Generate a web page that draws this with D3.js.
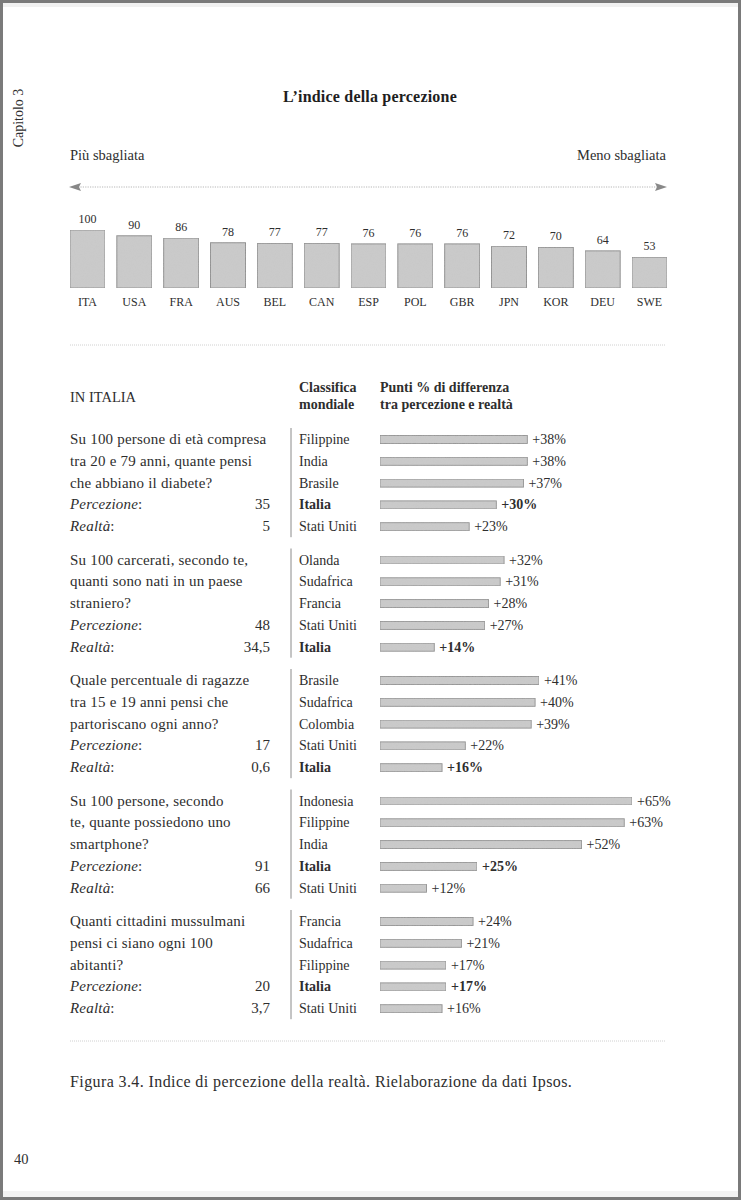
<!DOCTYPE html>
<html lang="it">
<head>
<meta charset="utf-8">
<title>L'indice della percezione</title>
<script src="https://cdn.jsdelivr.net/npm/d3@7"></script>
<style>
  html, body { margin: 0; padding: 0; background: #fff; }
  svg text { font-family: "Liberation Serif", "DejaVu Serif", serif; fill: #2e2e2e; }
</style>
</head>
<body>
<div id="page"></div>
<script>

// top index chart
const topCodes = ["ITA","USA","FRA","AUS","BEL","CAN","ESP","POL","GBR","JPN","KOR","DEU","SWE"];
const topValues = [100, 90, 86, 78, 77, 77, 76, 76, 76, 72, 70, 64, 53];

// questions (Italy)
const questionLines = [
  ["Su 100 persone di età compresa", "tra 20 e 79 anni, quante pensi", "che abbiano il diabete?"],
  ["Su 100 carcerati, secondo te,", "quanti sono nati in un paese", "straniero?"],
  ["Quale percentuale di ragazze", "tra 15 e 19 anni pensi che", "partoriscano ogni anno?"],
  ["Su 100 persone, secondo", "te, quante possiedono uno", "smartphone?"],
  ["Quanti cittadini mussulmani", "pensi ci siano ogni 100", "abitanti?"]
];
const perception = ["35", "48", "17", "91", "20"];
const reality = ["5", "34,5", "0,6", "66", "3,7"];

// world ranking per question
const rankCountries = [
  ["Filippine", "India", "Brasile", "Italia", "Stati Uniti"],
  ["Olanda", "Sudafrica", "Francia", "Stati Uniti", "Italia"],
  ["Brasile", "Sudafrica", "Colombia", "Stati Uniti", "Italia"],
  ["Indonesia", "Filippine", "India", "Italia", "Stati Uniti"],
  ["Francia", "Sudafrica", "Filippine", "Italia", "Stati Uniti"]
];
const rankDiffs = [
  [38, 38, 37, 30, 23],
  [32, 31, 28, 27, 14],
  [41, 40, 39, 22, 16],
  [65, 63, 52, 25, 12],
  [24, 21, 17, 17, 16]
];

const W = 741, H = 1200;
const svg = d3.select("#page").append("svg")
  .attr("width", W)
  .attr("height", H);

// page frame
svg.append("rect").attr("x", 0).attr("y", 0).attr("width", W).attr("height", H).attr("fill", "#7a7a7a");
svg.append("rect").attr("x", 3).attr("y", 3).attr("width", W - 6).attr("height", H - 6).attr("fill", "#fff");
svg.append("rect").attr("x", 3).attr("y", 3).attr("width", W - 6).attr("height", 4).attr("fill", "#f1f1f1");
svg.append("rect").attr("x", 3).attr("y", H - 9).attr("width", W - 6).attr("height", 6).attr("fill", "#f3f3f3");

// grain for the bars
const defs = svg.append("defs");
const grain = defs.append("filter").attr("id", "grain").attr("x", 0).attr("y", 0).attr("width", 1).attr("height", 1);
grain.append("feTurbulence").attr("type", "fractalNoise").attr("baseFrequency", 0.9).attr("numOctaves", 2).attr("seed", 3).attr("result", "noise");
grain.append("feColorMatrix").attr("in", "noise").attr("type", "matrix")
  .attr("values", "0 0 0 0 0.55  0 0 0 0 0.55  0 0 0 0 0.55  0 0 0 0.35 0").attr("result", "dots");
grain.append("feComposite").attr("in", "dots").attr("in2", "SourceGraphic").attr("operator", "in").attr("result", "d2");
grain.append("feMerge").selectAll("feMergeNode").data(["SourceGraphic", "d2"]).join("feMergeNode").attr("in", d => d);

const barFill = "#cbcbcb", barStroke = "#8a8a8a";

// side label + page number
svg.append("text")
  .attr("transform", "translate(23,118) rotate(-90)")
  .attr("text-anchor", "middle")
  .style("font-size", "14px")
  .text("Capitolo 3");

svg.append("text").attr("x", 14).attr("y", 1164).style("font-size", "14.5px").text("40");

// title
svg.append("text")
  .attr("x", 370).attr("y", 102)
  .attr("text-anchor", "middle")
  .style("font-size", "16px").style("font-weight", "bold")
  .style("letter-spacing", "0.2px")
  .style("fill", "#1e1e1e")
  .text("L\u2019indice della percezione");

svg.append("text").attr("x", 70).attr("y", 160).style("font-size", "14.5px").text("Più sbagliata");
svg.append("text").attr("x", 666).attr("y", 160).attr("text-anchor", "end").style("font-size", "14.5px").text("Meno sbagliata");

// arrow
const arrowY = 187;
svg.append("line")
  .attr("x1", 78).attr("x2", 658).attr("y1", arrowY).attr("y2", arrowY)
  .attr("stroke", "#a5a5a5").attr("stroke-width", 0.8).attr("stroke-dasharray", "1.2,1.2");
svg.append("path").attr("d", `M69,${arrowY} L81,${arrowY - 4} L79,${arrowY} L81,${arrowY + 4} Z`).attr("fill", "#888");
svg.append("path").attr("d", `M667,${arrowY} L655,${arrowY - 4} L657,${arrowY} L655,${arrowY + 4} Z`).attr("fill", "#888");

// top bars
const xTop = d3.scaleBand().domain(topCodes).range([70, 667]).paddingInner(0.2527).paddingOuter(0);
const yTop = d3.scaleLinear().domain([0, 100]).range([288, 230]);

const gTop = svg.append("g");
gTop.selectAll("rect").data(topCodes).join("rect")
  .attr("x", d => xTop(d))
  .attr("y", (d, i) => yTop(topValues[i]))
  .attr("width", xTop.bandwidth())
  .attr("height", (d, i) => yTop(0) - yTop(topValues[i]))
  .attr("fill", barFill).attr("stroke", barStroke).attr("stroke-width", 1)
  .attr("filter", "url(#grain)");

gTop.selectAll("text.val").data(topCodes).join("text")
  .attr("class", "val")
  .attr("x", d => xTop(d) + xTop.bandwidth() / 2)
  .attr("y", (d, i) => yTop(topValues[i]) - 7)
  .attr("text-anchor", "middle")
  .style("font-size", "12px")
  .text((d, i) => topValues[i]);

gTop.selectAll("text.code").data(topCodes).join("text")
  .attr("class", "code")
  .attr("x", d => xTop(d) + xTop.bandwidth() / 2)
  .attr("y", 306)
  .attr("text-anchor", "middle")
  .style("font-size", "12px")
  .text(d => d);

// dotted separators
[345, 1041].forEach(y => {
  svg.append("line").attr("x1", 70).attr("x2", 666).attr("y1", y).attr("y2", y)
    .attr("stroke", "#c4c4c4").attr("stroke-width", 0.8).attr("stroke-dasharray", "1,1");
});

// headers
svg.append("text").attr("x", 70).attr("y", 402).style("font-size", "14.5px").text("IN ITALIA");
const hdr = [["Classifica", "mondiale"], ["Punti % di differenza", "tra percezione e realtà"]];
[299, 380].forEach((x, k) => {
  hdr[k].forEach((t, j) => {
    svg.append("text").attr("x", x).attr("y", 392 + j * 17)
      .style("font-size", "14px").style("font-weight", "bold").text(t);
  });
});

// question blocks
const blockTop = 439, blockStep = 120.5, rowStep = 21.8;
const xDiff = d3.scaleLinear().domain([0, 65]).range([380, 632]);
const barH = 8;
const qSize = "15px", qSpace = "0.2px";

questionLines.forEach((lines, q) => {
  const y0 = blockTop + q * blockStep;
  const rowY = d3.range(5).map(r => y0 + r * rowStep);
  const g = svg.append("g");

  lines.forEach((t, r) => {
    g.append("text").attr("x", 70).attr("y", rowY[r] + 5)
      .style("font-size", qSize).style("letter-spacing", qSpace).text(t);
  });
  g.append("text").attr("x", 70).attr("y", rowY[3] + 5).style("font-size", qSize).style("letter-spacing", qSpace)
    .style("font-style", "italic").text("Percezione").append("tspan").style("font-style", "normal").text(":");
  g.append("text").attr("x", 70).attr("y", rowY[4] + 5).style("font-size", qSize).style("letter-spacing", qSpace)
    .style("font-style", "italic").text("Realtà").append("tspan").style("font-style", "normal").text(":");
  g.append("text").attr("x", 270).attr("y", rowY[3] + 5).attr("text-anchor", "end").style("font-size", qSize).text(perception[q]);
  g.append("text").attr("x", 270).attr("y", rowY[4] + 5).attr("text-anchor", "end").style("font-size", qSize).text(reality[q]);

  // vertical rule
  g.append("line").attr("x1", 291).attr("x2", 291)
    .attr("y1", rowY[0] - 11).attr("y2", rowY[4] + 11)
    .attr("stroke", "#8a8a8a").attr("stroke-width", 1);

  const countries = rankCountries[q];
  const diffs = rankDiffs[q];

  g.selectAll("text.country").data(countries).join("text")
    .attr("class", "country")
    .attr("x", 299).attr("y", (d, i) => rowY[i] + 5)
    .style("font-size", "14px")
    .style("font-weight", d => d === "Italia" ? "bold" : "normal")
    .text(d => d);

  g.selectAll("rect").data(diffs).join("rect")
    .attr("x", xDiff(0))
    .attr("y", (d, i) => rowY[i] - barH / 2 + 0.5)
    .attr("width", d => xDiff(d) - xDiff(0))
    .attr("height", barH)
    .attr("fill", barFill).attr("stroke", barStroke).attr("stroke-width", 0.9)
    .attr("filter", "url(#grain)");

  g.selectAll("text.diff").data(diffs).join("text")
    .attr("class", "diff")
    .attr("x", d => xDiff(d) + 5)
    .attr("y", (d, i) => rowY[i] + 5)
    .style("font-size", "14px")
    .style("font-weight", (d, i) => countries[i] === "Italia" ? "bold" : "normal")
    .text(d => "+" + d + "%");
});

// caption
svg.append("text").attr("x", 70).attr("y", 1087).style("font-size", "16px")
  .style("letter-spacing", "0.4px")
  .text("Figura 3.4. Indice di percezione della realtà. Rielaborazione da dati Ipsos.");

</script>
</body>
</html>
